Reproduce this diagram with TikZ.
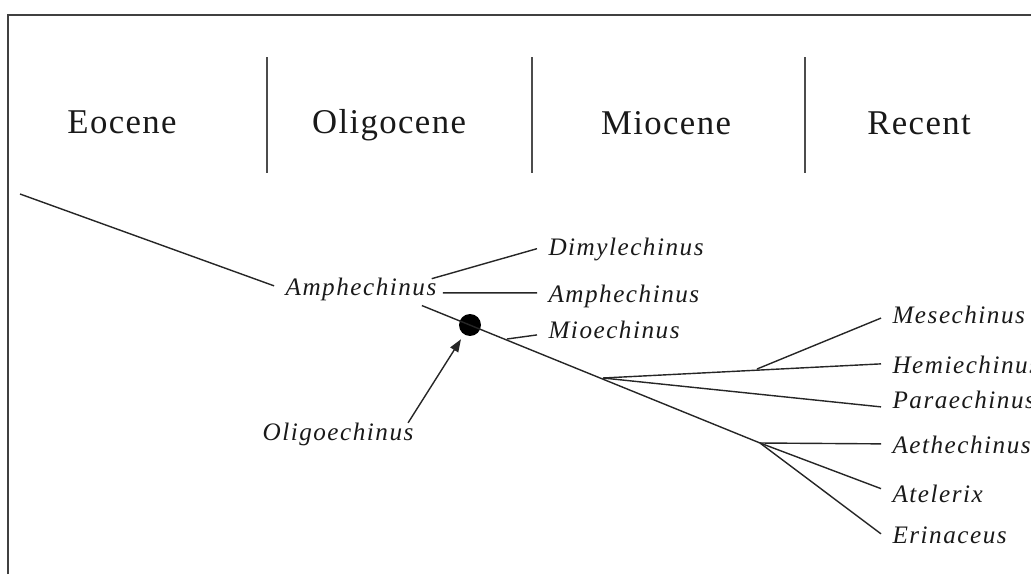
\documentclass[tikz,border=0pt]{standalone}
\usepackage{fontspec}
\setmainfont{Liberation Serif}
\newfontfamily\epochfont[LetterSpace=4]{Liberation Serif}
\newfontfamily\taxonfont[LetterSpace=6]{Liberation Serif}
\usetikzlibrary{arrows.meta,positioning}

\begin{document}
\begin{tikzpicture}[
        x=0.025cm, y=-0.025cm,
        >={Triangle[length=9pt,width=6.5pt]},
        frame/.style={line width=1.4pt, draw=black!75},
        divider/.style={line width=1pt, draw=black!70},
        branch/.style={line width=1pt, draw=black!85},
        epoch/.style={font=\epochfont\fontsize{24.7}{28}\selectfont, anchor=base, inner sep=0pt, text=black!90},
        taxon/.style={font=\taxonfont\itshape\fontsize{17.9}{20}\selectfont, text=black!90,
            inner xsep=8pt, inner ysep=2pt, text height=14pt, text depth=1pt},
        dot/.style={circle, fill=black, inner sep=0pt, minimum size=15.6pt}
    ]
        \useasboundingbox (0,0) rectangle (1031,574);
        \draw[frame] (8,574) -- (8,15) -- (1031,15);

        \node[epoch] (eoc) at (122,133) {Eocene};
        \node[epoch] (oli) at (389,133) {Oligocene};
        \node[epoch] (mio) at (666,134) {Miocene};
        \node[epoch] (rec) at (919,134) {Recent};
        \draw[divider] (267,57) -- (267,173);
        \draw[divider] (532,57) -- (532,173);
        \draw[divider] (805,57) -- (805,173);

        \node[taxon, anchor=base] (amphL) at (361,295) {Amphechinus};
        \node[taxon, anchor=base] (oligo) at (338,440) {Oligoechinus};
        \node[taxon, anchor=base west] (dimy)  at (537,255) {Dimylechinus};
        \node[taxon, anchor=base west] (amphR) at (537,302) {Amphechinus};
        \node[taxon, anchor=base west] (mioe)  at (537,338) {Mioechinus};
        \node[taxon, anchor=base west] (mese)  at (881,323) {Mesechinus};
        \node[taxon, anchor=base west] (hemi)  at (881,373) {Hemiechinus};
        \node[taxon, anchor=base west] (para)  at (881,408) {Paraechinus};
        \node[taxon, anchor=base west] (aeth)  at (881,453) {Aethechinus};
        \node[taxon, anchor=base west] (atel)  at (881,502) {Atelerix};
        \node[taxon, anchor=base west] (erin)  at (881,543) {Erinaceus};

        \coordinate (root) at (20,194);
        \coordinate (mioj) at (507,339);
        \coordinate (n1) at (603,378);
        \coordinate (m1) at (757,369);
        \coordinate (n2) at (760,443);
        \node[dot] (olig) at (470,325) {};

        \draw[branch] (root) -- (amphL.west);
        \draw[branch] ([xshift=-11.5pt,yshift=-4.6pt]amphL.north east) -- ([yshift=-2pt]dimy.west);
        \draw[branch] ([xshift=-3.5pt,yshift=-5pt]amphL.east) -- (amphR.west);
        \draw[branch] ([xshift=-18.5pt,yshift=-4.3pt]amphL.south east) -- (n2);
        \draw[branch] (mioj) -- ([yshift=-4.3pt]mioe.west);
        \draw[branch] (n1) -- (hemi.west);
        \draw[branch] (n1) -- ([yshift=-5.7pt]para.west);
        \draw[branch] (m1) -- ([yshift=-3pt]mese.west);
        \draw[branch] (n2) -- (aeth.west);
        \draw[branch] (n2) -- ([yshift=3pt]atel.west);
        \draw[branch] (n2) -- (erin.west);
        \draw[branch, ->, shorten >=4pt] ([xshift=-12pt,yshift=-4pt]oligo.north east) -- (olig);
    \end{tikzpicture}
\end{document}
